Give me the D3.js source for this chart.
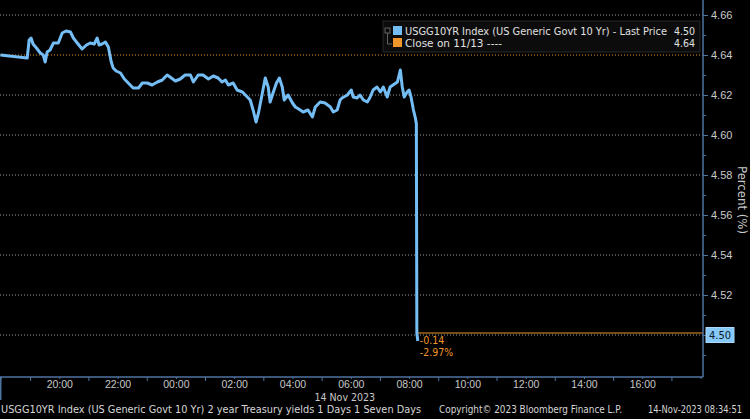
<!DOCTYPE html>
<html>
<head>
<meta charset="utf-8">
<script src="https://cdn.jsdelivr.net/npm/d3@7"></script>
<style>
body { margin: 0; background: #000; }
text { font-family: "Liberation Sans Narrow", "DejaVu Sans Condensed", sans-serif; }
</style>
</head>
<body>
<script>
// intraday USGG10YR (times as shown on the axis)
var times = [
  "11-13 17:59", "11-13 18:54", "11-13 18:58", "11-13 19:02", "11-13 19:06", "11-13 19:13",
  "11-13 19:21", "11-13 19:27", "11-13 19:31", "11-13 19:35", "11-13 19:41", "11-13 19:48",
  "11-13 19:58", "11-13 20:06", "11-13 20:14", "11-13 20:23", "11-13 20:29", "11-13 20:37",
  "11-13 20:47", "11-13 20:56", "11-13 21:04", "11-13 21:12", "11-13 21:18", "11-13 21:22",
  "11-13 21:28", "11-13 21:35", "11-13 21:41", "11-13 21:47", "11-13 21:51", "11-13 21:57",
  "11-13 22:06", "11-13 22:14", "11-13 22:20", "11-13 22:32", "11-13 22:43", "11-13 22:51",
  "11-13 23:01", "11-13 23:11", "11-13 23:22", "11-13 23:32", "11-13 23:42", "11-13 23:48",
  "11-13 23:59", "11-14 00:09", "11-14 00:19", "11-14 00:30", "11-14 00:36", "11-14 00:46",
  "11-14 00:56", "11-14 01:07", "11-14 01:17", "11-14 01:27", "11-14 01:35", "11-14 01:42",
  "11-14 01:48", "11-14 01:58", "11-14 02:06", "11-14 02:17", "11-14 02:27", "11-14 02:33",
  "11-14 02:39", "11-14 02:45", "11-14 02:50", "11-14 02:58", "11-14 03:04", "11-14 03:10",
  "11-14 03:14", "11-14 03:20", "11-14 03:27", "11-14 03:33", "11-14 03:39", "11-14 03:43",
  "11-14 03:51", "11-14 04:00", "11-14 04:06", "11-14 04:16", "11-14 04:22", "11-14 04:32",
  "11-14 04:41", "11-14 04:47", "11-14 04:57", "11-14 05:07", "11-14 05:18", "11-14 05:24",
  "11-14 05:32", "11-14 05:38", "11-14 05:42", "11-14 05:53", "11-14 06:01", "11-14 06:05",
  "11-14 06:13", "11-14 06:19", "11-14 06:26", "11-14 06:34", "11-14 06:40", "11-14 06:46",
  "11-14 06:54", "11-14 07:01", "11-14 07:07", "11-14 07:15", "11-14 07:21", "11-14 07:27",
  "11-14 07:36", "11-14 07:42", "11-14 07:46", "11-14 07:50", "11-14 07:56", "11-14 08:00",
  "11-14 08:04", "11-14 08:09", "11-14 08:13", "11-14 08:15", "11-14 08:16", "11-14 08:18"
];
var yields = [
  4.640, 4.6385, 4.6475, 4.6485, 4.6455, 4.6435,
  4.641, 4.640, 4.6365, 4.6415, 4.6425, 4.646,
  4.646, 4.651, 4.652, 4.6515, 4.6485, 4.646,
  4.643, 4.645, 4.646, 4.6455, 4.6485, 4.645,
  4.6455, 4.6465, 4.644, 4.6365, 4.6335, 4.632,
  4.631, 4.628, 4.6265, 4.6235, 4.6235, 4.626,
  4.626, 4.625, 4.6265, 4.6275, 4.630, 4.629,
  4.627, 4.628, 4.630, 4.630, 4.6265, 4.630,
  4.630, 4.628, 4.6295, 4.6285, 4.6265, 4.6275,
  4.625, 4.626, 4.6225, 4.6215, 4.619, 4.6175,
  4.6125, 4.6065, 4.611, 4.621, 4.6285, 4.624,
  4.6165, 4.621, 4.626, 4.6285, 4.624, 4.6175,
  4.620, 4.616, 4.614, 4.6125, 4.6115, 4.6125,
  4.609, 4.614, 4.6165, 4.616, 4.614, 4.6115,
  4.6125, 4.6175, 4.6185, 4.620, 4.6225, 4.619,
  4.6185, 4.620, 4.6175, 4.6165, 4.619, 4.6225,
  4.624, 4.6215, 4.624, 4.619, 4.624, 4.625,
  4.6265, 4.6325, 4.624, 4.619, 4.6215, 4.6225,
  4.619, 4.6125, 4.6085, 4.6055, 4.501, 4.497
];
var yTicks = [4.50, 4.52, 4.54, 4.56, 4.58, 4.60, 4.62, 4.64, 4.66];
var xLabelTimes = ["11-13 20:00", "11-13 22:00", "11-14 00:00", "11-14 02:00", "11-14 04:00",
  "11-14 06:00", "11-14 08:00", "11-14 10:00", "11-14 12:00", "11-14 14:00", "11-14 16:00"];
var prevClose = 4.64;
var lastPrice = 4.50;
var changeAbs = "-0.14";
var changePct = "-2.97%";
var seriesName = "USGG10YR Index (US Generic Govt 10 Yr) - Last Price";
var closeName = "Close on 11/13 ----";
var footLeft = "USGG10YR Index (US Generic Govt 10 Yr) 2 year Treasury yields 1 Days 1 Seven Days";
var footMid = "Copyright\u00a9 2023 Bloomberg Finance L.P.";
var footRight = "14-Nov-2023 08:34:51";

var parseT = d3.utcParse("2023-%m-%d %H:%M");
var data = times.map((t, i) => ({ t: parseT("2023-" + t), v: yields[i] }));

var svgWidth = 750, svgHeight = 419;
var plotRight = 703, plotBottom = 377;

var svg = d3.select("body").append("svg")
  .attr("width", svgWidth)
  .attr("height", svgHeight)
  .style("background", "#000");

var x = d3.scaleUtc()
  .domain([parseT("2023-11-13 17:58"), parseT("2023-11-14 18:05")])
  .range([0, plotRight]);
var y = d3.scaleLinear()
  .domain([4.50, 4.66])
  .range([335, 15]);

var axisColor = "#4f73a0";
var textColor = "#c9c9c9";
var lineColor = "#74bdf5";
var orange = "#f0962a";

// small helper: text squeezed to the width it has in the picture
function fitText(g, px, py, str, w, opts) {
  opts = opts || {};
  return g.append("text")
    .attr("x", px).attr("y", py)
    .attr("text-anchor", opts.anchor || "start")
    .attr("fill", opts.fill || "#d6d6d6")
    .attr("font-size", opts.size || 10)
    .attr("textLength", w)
    .attr("lengthAdjust", "spacingAndGlyphs")
    .text(str);
}

// gridlines
svg.append("g").selectAll("line")
  .data(yTicks)
  .enter().append("line")
  .attr("x1", 0).attr("x2", plotRight)
  .attr("y1", d => y(d)).attr("y2", d => y(d))
  .attr("stroke", d => d == prevClose ? orange : "#9a9a9a")
  .attr("stroke-width", 1)
  .attr("stroke-dasharray", "1,2");

// last-price change line
var lastX = x(data[data.length - 1].t);
svg.append("line")
  .attr("x1", lastX).attr("x2", plotRight)
  .attr("y1", y(lastPrice) - 2).attr("y2", y(lastPrice) - 2)
  .attr("stroke", orange).attr("stroke-width", 1);

// series
var line = d3.line().x(d => x(d.t)).y(d => y(d.v));
svg.append("path")
  .datum(data)
  .attr("d", line)
  .attr("fill", "none")
  .attr("stroke", lineColor)
  .attr("stroke-width", 3)
  .attr("stroke-linejoin", "round");

// change annotation
svg.append("text").attr("x", lastX + 2).attr("y", y(lastPrice) + 9)
  .attr("fill", orange).attr("font-size", 10.5).text(changeAbs);
svg.append("text").attr("x", lastX + 2).attr("y", y(lastPrice) + 21)
  .attr("fill", orange).attr("font-size", 10.5).text(changePct);

// frame
svg.append("line").attr("x1", plotRight).attr("x2", plotRight).attr("y1", 0).attr("y2", plotBottom)
  .attr("stroke", axisColor).attr("stroke-width", 1.5);
svg.append("line").attr("x1", 0).attr("x2", plotRight).attr("y1", plotBottom).attr("y2", plotBottom)
  .attr("stroke", axisColor).attr("stroke-width", 1.5);
svg.append("line").attr("x1", 0.75).attr("x2", 0.75).attr("y1", plotBottom).attr("y2", 400)
  .attr("stroke", axisColor).attr("stroke-width", 1.5);

// y axis
var yAxis = d3.axisRight(y).tickValues(yTicks).tickSize(5).tickPadding(3).tickFormat(d3.format(".2f"));
var yAxisGroup = svg.append("g")
  .attr("transform", `translate(${plotRight},0)`)
  .call(yAxis);
yAxisGroup.select(".domain").remove();
yAxisGroup.selectAll("line").attr("stroke", axisColor);
yAxisGroup.selectAll("text").attr("fill", textColor).attr("font-size", 11)
  .style("font-family", "'Liberation Sans Narrow', sans-serif");
yAxisGroup.selectAll(".tick").filter(d => d == lastPrice).select("text").remove();

var yMinor = d3.axisRight(y).tickValues(yTicks.map(d => d + 0.01).concat([4.49])).tickSize(3).tickFormat("");
var yMinorGroup = svg.append("g").attr("transform", `translate(${plotRight},0)`).call(yMinor);
yMinorGroup.select(".domain").remove();
yMinorGroup.selectAll("line").attr("stroke", axisColor);

// last price badge
var badge = svg.append("g").attr("transform", `translate(${plotRight + 3},${y(lastPrice)})`);
badge.append("rect").attr("x", 0).attr("y", -7.5).attr("width", 28).attr("height", 15)
  .attr("fill", "#86c8f7").attr("stroke", "#a9d9fb");
badge.append("text").attr("x", 14).attr("y", 4).attr("text-anchor", "middle")
  .attr("font-size", 11).attr("fill", "#0b1a2a").text(lastPrice.toFixed(2));

svg.append("text")
  .attr("transform", `translate(738,200) rotate(90)`)
  .attr("text-anchor", "middle")
  .attr("fill", textColor).attr("font-size", 13)
  .text("Percent (%)");

// x axis
var xLabels = xLabelTimes.map(t => parseT("2023-" + t));
var xAxis = d3.axisBottom(x).tickValues(xLabels).tickSize(0).tickPadding(4)
  .tickFormat(d3.utcFormat("%H:%M"));
var xAxisGroup = svg.append("g")
  .attr("transform", `translate(0,${plotBottom})`)
  .call(xAxis);
xAxisGroup.select(".domain").remove();
xAxisGroup.selectAll("text").attr("fill", textColor).attr("font-size", 10.5)
  .style("font-family", "'Liberation Sans Narrow', sans-serif");

var xMinor = d3.axisTop(x).ticks(d3.utcHour.every(1)).tickSize(-3).tickFormat("");
var xMinorGroup = svg.append("g").attr("transform", `translate(0,${plotBottom})`).call(xMinor);
xMinorGroup.select(".domain").remove();
xMinorGroup.selectAll("line").attr("stroke", axisColor)
  .attr("y2", d => d.getUTCHours() % 2 ? 4 : 2);

svg.append("text").attr("x", x(parseT("2023-11-14 06:00")) - 6).attr("y", 401)
  .attr("text-anchor", "middle").attr("fill", textColor).attr("font-size", 10.5)
  .text("14 Nov 2023");

// legend
var legend = svg.append("g");
legend.append("rect").attr("x", 383).attr("y", 21).attr("width", 317).attr("height", 31)
  .attr("fill", "#0c0c0c").attr("stroke", "#262626");
legend.append("rect").attr("x", 385).attr("y", 28).attr("width", 5).attr("height", 5)
  .attr("fill", "none").attr("stroke", "#777").attr("stroke-width", 0.8);
legend.append("path").attr("d", "M387.5,33 V44 H392").attr("fill", "none").attr("stroke", "#777").attr("stroke-width", 0.8);
legend.append("rect").attr("x", 393).attr("y", 26).attr("width", 9).attr("height", 9).attr("fill", lineColor);
legend.append("rect").attr("x", 393).attr("y", 38).attr("width", 9).attr("height", 9).attr("fill", orange);
fitText(legend, 405, 35, seriesName, 262, { fill: "#e0e0e0" });
fitText(legend, 674, 35, lastPrice.toFixed(2), 21, { fill: "#e0e0e0" });
fitText(legend, 405, 47, closeName, 97, { fill: "#e0e0e0" });
fitText(legend, 674, 47, prevClose.toFixed(2), 21, { fill: "#e0e0e0" });

// footer
fitText(svg, 1, 413, footLeft, 420);
fitText(svg, 439, 413, footMid, 183);
fitText(svg, 648, 413, footRight, 94);
</script>
</body>
</html>
